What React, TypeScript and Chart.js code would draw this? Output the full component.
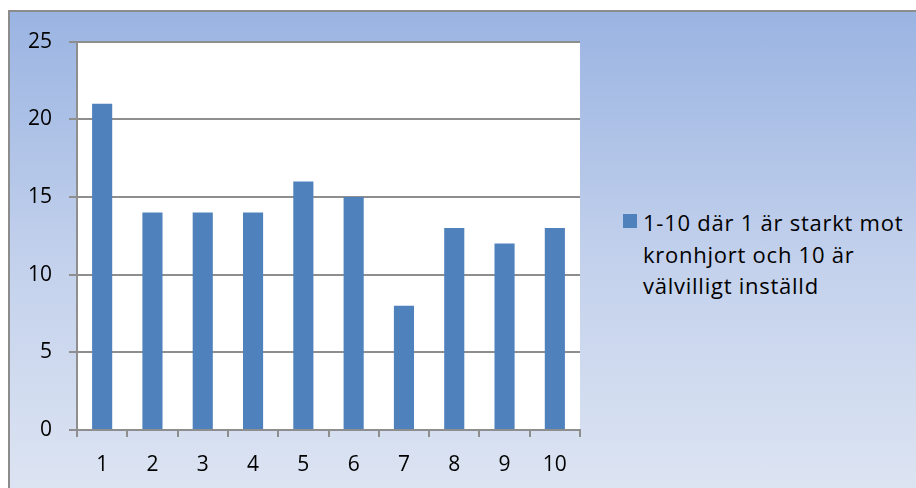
import React, { useEffect, useRef } from "react";
import { Chart, registerables } from "chart.js";

Chart.register(...registerables);

const categories = ["1", "2", "3", "4", "5", "6", "7", "8", "9", "10"];
const values = [21, 14, 14, 14, 16, 15, 8, 13, 12, 13];
const seriesLabel = ["1-10 där 1 är starkt mot", "kronhjort och 10 är", "välvilligt inställd"];
const yMin = 0;
const yMax = 25;
const yStep = 5;

const FONT = "'Open Sans', Lato, sans-serif";
const GRID = "#8e8e8e";
const BAR = "#4f81bd";

const plotBg = {
  id: "plotBg",
  beforeDraw(chart: any) {
    const { ctx, chartArea } = chart;
    ctx.save();
    ctx.fillStyle = "#ffffff";
    ctx.fillRect(chartArea.left, chartArea.top, chartArea.right - chartArea.left, chartArea.bottom - chartArea.top);
    ctx.restore();
  },
};

export default function App() {
  const ref = useRef<HTMLCanvasElement | null>(null);

  useEffect(() => {
    if (!ref.current) return;
    const chart = new Chart(ref.current, {
      type: "bar",
      data: {
        labels: categories,
        datasets: [
          {
            label: seriesLabel.join(" "),
            data: values,
            backgroundColor: BAR,
            borderWidth: 0,
            barPercentage: 1,
            categoryPercentage: 0.4,
          },
        ],
      },
      options: {
        animation: false,
        responsive: false,
        maintainAspectRatio: false,
        layout: { padding: { left: 0, top: 29, right: 10, bottom: 0 } },
        plugins: { legend: { display: false }, tooltip: { enabled: false } },
        scales: {
          x: {
            offset: true,
            grid: { offset: true, drawOnChartArea: false, drawTicks: true, tickLength: 7, color: GRID, lineWidth: 2 },
            border: { display: true, color: GRID, width: 2 },
            ticks: { color: "#000", font: { family: FONT, size: 21 }, padding: 15, maxRotation: 0 },
            afterFit(scale: any) {
              scale.height = 58;
            },
          },
          y: {
            min: yMin,
            max: yMax,
            grid: { color: GRID, lineWidth: 2, drawTicks: true, tickLength: 8 },
            border: { display: true, color: GRID, width: 2 },
            ticks: { stepSize: yStep, color: "#000", font: { family: FONT, size: 21 }, padding: 17 },
            afterFit(scale: any) {
              scale.width = 67;
            },
          },
        },
      },
      plugins: [plotBg],
    });
    return () => chart.destroy();
  }, []);

  return (
    <div style={{ position: "fixed", left: 0, top: 0, width: 916, height: 488, overflow: "hidden" }}>
      <div
        style={{
          position: "absolute",
          left: 8,
          top: 10,
          width: 930,
          height: 500,
          border: "2px solid #8c8c8c",
          background: "linear-gradient(to bottom, #9ab4e2 0%, #c3d1ec 50%, #dfe6f3 100%)",
        }}
      >
        <canvas ref={ref} width={580} height={476} style={{ position: "absolute", left: 0, top: 0, width: 580, height: 476 }} />
        <div style={{ position: "absolute", left: 613, top: 202, width: 14, height: 14, background: BAR }} />
        <div
          style={{
            position: "absolute",
            left: 633,
            top: 195,
            fontFamily: FONT,
            fontSize: 22,
            letterSpacing: "0.75px",
            lineHeight: "31.5px",
            color: "#000",
            whiteSpace: "nowrap",
          }}
        >
          {seriesLabel.map((l, i) => (
            <div key={i}>{l}</div>
          ))}
        </div>
      </div>
    </div>
  );
}
